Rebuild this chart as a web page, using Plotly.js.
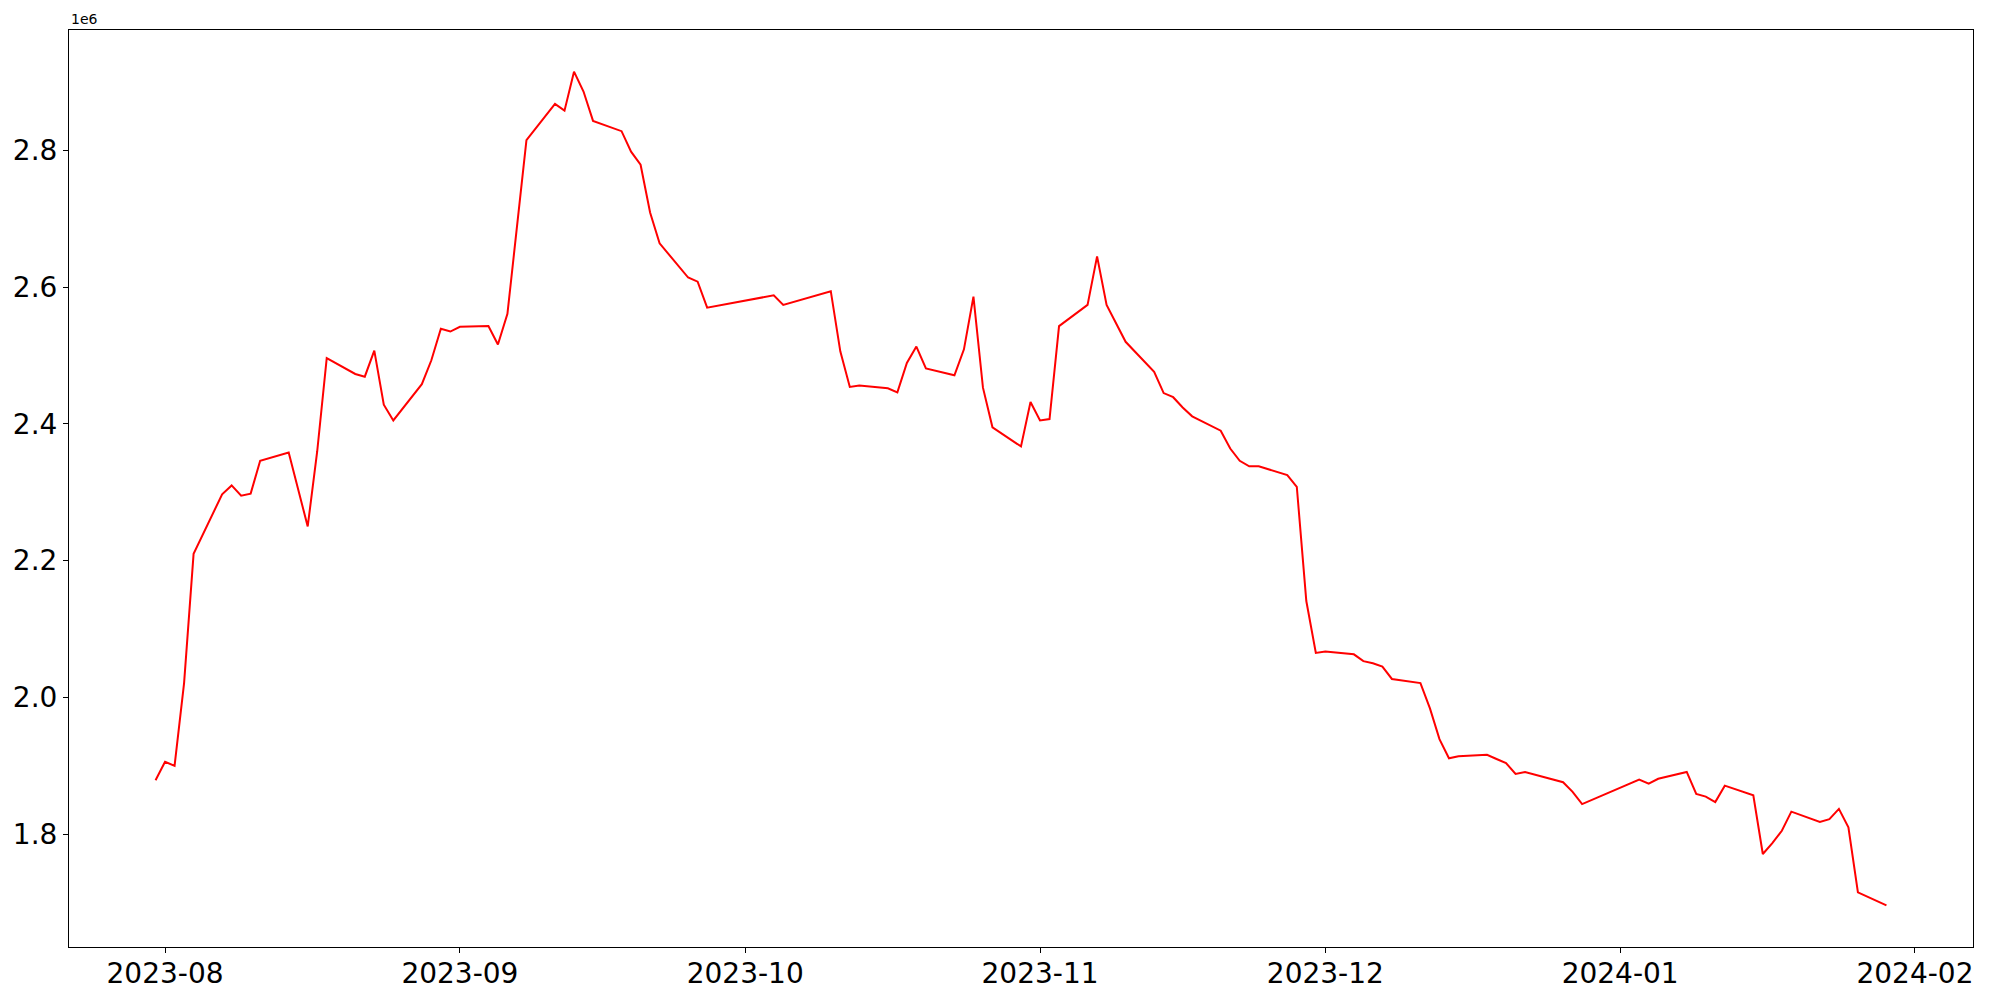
<!DOCTYPE html>
<html>
<head>
<meta charset="utf-8">
<script src="https://cdn.plot.ly/plotly-3.0.1.min.js"></script>
<style>
  html, body { margin: 0; padding: 0; background: #ffffff; }
  #chart { width: 2000px; height: 1000px; }
</style>
</head>
<body>
<div id="chart"></div>
<script>
const dates = [
  "2023-07-31","2023-08-01","2023-08-02","2023-08-03","2023-08-04",
  "2023-08-07","2023-08-08","2023-08-09","2023-08-10","2023-08-11",
  "2023-08-14","2023-08-16","2023-08-17","2023-08-18",
  "2023-08-21","2023-08-22","2023-08-23","2023-08-24","2023-08-25",
  "2023-08-28","2023-08-29","2023-08-30","2023-08-31","2023-09-01",
  "2023-09-04","2023-09-05","2023-09-06","2023-09-08",
  "2023-09-11","2023-09-12","2023-09-13","2023-09-14","2023-09-15",
  "2023-09-18","2023-09-19","2023-09-20","2023-09-21","2023-09-22",
  "2023-09-25","2023-09-26","2023-09-27",
  "2023-10-04","2023-10-05",
  "2023-10-10","2023-10-11","2023-10-12","2023-10-13",
  "2023-10-16","2023-10-17","2023-10-18","2023-10-19","2023-10-20",
  "2023-10-23","2023-10-24","2023-10-25","2023-10-26","2023-10-27",
  "2023-10-30","2023-10-31","2023-11-01","2023-11-02","2023-11-03",
  "2023-11-06","2023-11-07","2023-11-08","2023-11-10",
  "2023-11-13","2023-11-14","2023-11-15","2023-11-16","2023-11-17",
  "2023-11-20","2023-11-21","2023-11-22","2023-11-23","2023-11-24",
  "2023-11-27","2023-11-28","2023-11-29","2023-11-30","2023-12-01",
  "2023-12-04","2023-12-05","2023-12-06","2023-12-07","2023-12-08",
  "2023-12-11","2023-12-12","2023-12-13","2023-12-14","2023-12-15",
  "2023-12-18","2023-12-19","2023-12-20","2023-12-21","2023-12-22",
  "2023-12-26","2023-12-27","2023-12-28",
  "2024-01-03","2024-01-04","2024-01-05",
  "2024-01-08","2024-01-09","2024-01-10","2024-01-11","2024-01-12",
  "2024-01-15","2024-01-16","2024-01-17","2024-01-18","2024-01-19",
  "2024-01-22","2024-01-23","2024-01-24","2024-01-25","2024-01-26",
  "2024-01-29"
];

const values = [
  1879000,1906000,1900000,2021000,2210000,
  2297000,2310000,2295000,2298000,2346000,
  2358000,2250000,2360000,2496000,
  2473000,2469000,2507000,2428000,2405000,
  2458000,2493000,2539000,2535000,2542000,
  2543000,2516000,2561000,2815000,
  2868000,2858000,2915000,2886000,2843000,
  2828000,2798000,2779000,2709000,2664000,
  2614000,2608000,2570000,
  2588000,2574000,
  2594000,2506000,2454000,2456000,
  2452000,2446000,2489000,2513000,2481000,
  2471000,2509000,2586000,2453000,2395000,
  2367000,2432000,2405000,2407000,2543000,
  2574000,2645000,2574000,2520000,
  2476000,2445000,2439000,2424000,2411000,
  2390000,2364000,2346000,2338000,2338000,
  2325000,2308000,2141000,2065000,2067000,
  2063000,2053000,2050000,2045000,2027000,
  2021000,1984000,1939000,1911000,1914000,
  1916000,1910000,1904000,1888000,1891000,
  1876000,1862000,1844000,
  1880000,1874000,1881000,
  1891000,1859000,1855000,1847000,1871000,
  1857000,1771000,1787000,1805000,1833000,
  1818000,1822000,1837000,1810000,1715000,
  1696000
];

const yTickVals = [1800000, 2000000, 2200000, 2400000, 2600000, 2800000];
const yTickText = ["1.8", "2.0", "2.2", "2.4", "2.6", "2.8"];
const xTickVals = ["2023-08-01","2023-09-01","2023-10-01","2023-11-01","2023-12-01","2024-01-01","2024-02-01"];
const xTickText = ["2023-08","2023-09","2023-10","2023-11","2023-12","2024-01","2024-02"];
const offsetText = "1e6";

// matplotlib-like 5% autoscale margins
const yMin = Math.min(...values), yMax = Math.max(...values);
const yPad = (yMax - yMin) * 0.05;
const t0 = new Date(dates[0] + "T00:00:00Z").getTime();
const t1 = new Date(dates[dates.length - 1] + "T00:00:00Z").getTime();
const tPad = (t1 - t0) * 0.05;
const fmt = t => new Date(t).toISOString().replace("T", " ").slice(0, 19);

const trace = {
  type: "scatter",
  mode: "lines",
  x: dates,
  y: values,
  line: { color: "#ff0000", width: 2 },
  hoverinfo: "x+y"
};

const axisCommon = {
  showgrid: false,
  zeroline: false,
  showline: true,
  linecolor: "#000000",
  linewidth: 1,
  mirror: true,
  ticks: "outside",
  ticklen: 5,
  tickwidth: 1,
  tickcolor: "#000000",
  tickfont: { family: "DejaVu Sans", size: 28, color: "#000000" }
};

const layout = {
  width: 2000,
  height: 1000,
  margin: { l: 69, r: 27, t: 30, b: 53 },
  paper_bgcolor: "#ffffff",
  plot_bgcolor: "#ffffff",
  showlegend: false,
  xaxis: Object.assign({}, axisCommon, {
    type: "date",
    range: [fmt(t0 - tPad), fmt(t1 + tPad)],
    tickmode: "array",
    tickvals: xTickVals,
    ticktext: xTickText,
    ticklabelstandoff: -4
  }),
  yaxis: Object.assign({}, axisCommon, {
    range: [yMin - yPad, yMax + yPad],
    tickmode: "array",
    tickvals: yTickVals,
    ticktext: yTickText
  }),
  annotations: [{
    text: offsetText,
    xref: "paper", yref: "paper",
    x: 0, y: 1,
    xanchor: "left", yanchor: "bottom",
    yshift: 1,
    showarrow: false,
    font: { family: "DejaVu Sans", size: 14, color: "#000000" }
  }]
};

Plotly.newPlot("chart", [trace], layout, { displayModeBar: false, staticPlot: true });
</script>
</body>
</html>
